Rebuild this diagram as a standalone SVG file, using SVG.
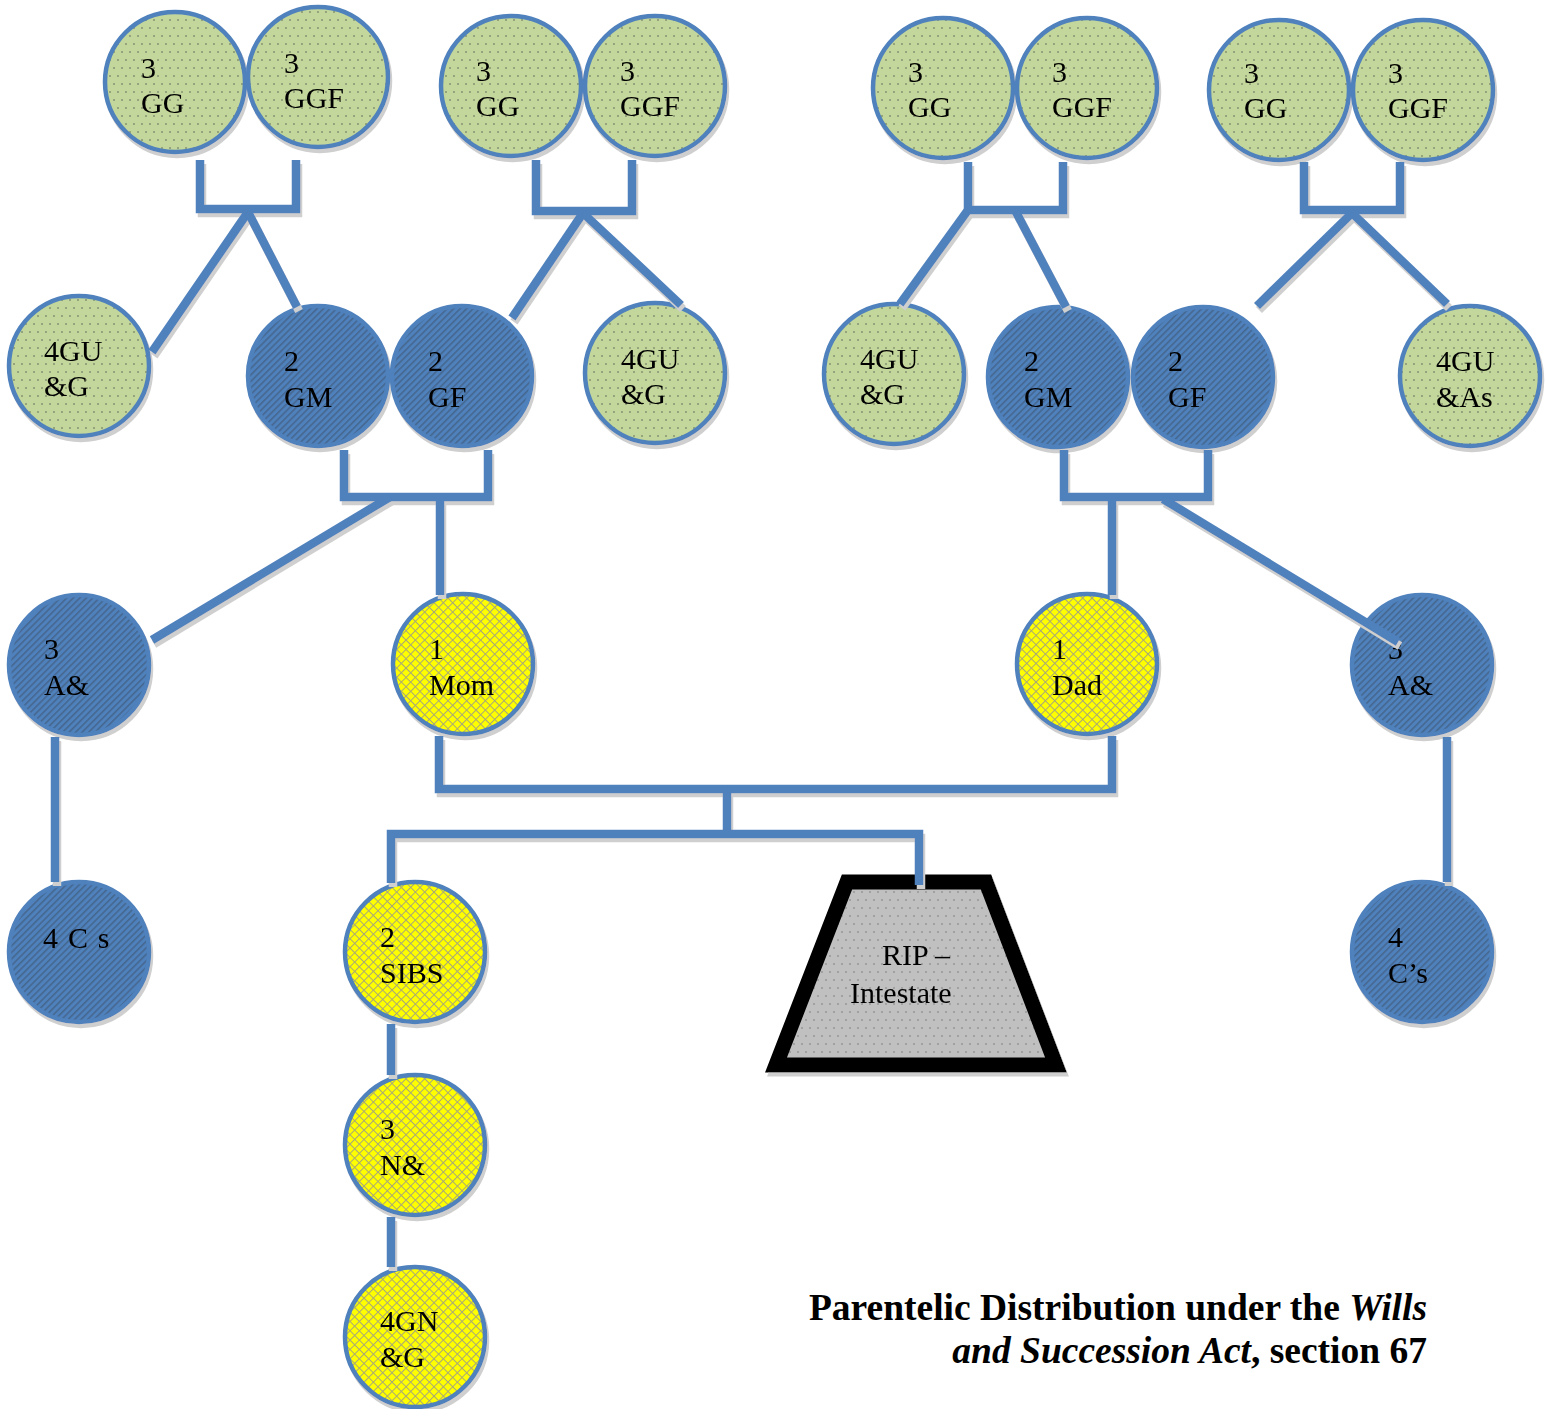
<svg xmlns="http://www.w3.org/2000/svg" xmlns:xlink="http://www.w3.org/1999/xlink" width="1551" height="1409" viewBox="0 0 1551 1409">
<style>
  .lbl { font-family: "Liberation Serif", "Times New Roman", serif; font-size: 30px; fill: #000; }
  .green { fill: url(#dotsGreen); stroke: #4f81bd; stroke-width: 4.5; }
  .blue { fill: url(#hatchBlue); stroke: #4f81bd; stroke-width: 4.5; }
  .yellow { fill: url(#crossYellow); stroke: #4f81bd; stroke-width: 4.5; }
  .conn path { fill: none; stroke: #4f81bd; stroke-width: 8.5; stroke-linejoin: miter; stroke-linecap: butt; }
  .title { font-family: "Liberation Serif", "Times New Roman", serif; font-size: 37.5px; font-weight: bold; fill: #000; }
</style>
<defs>
  <pattern id="dotsGreen" patternUnits="userSpaceOnUse" width="8" height="16">
    <rect width="8" height="16" fill="#c3d69b"/>
    <circle cx="2" cy="4" r="0.8" fill="#5a6450"/>
    <circle cx="6" cy="12" r="0.8" fill="#5a6450"/>
  </pattern>
  <pattern id="dotsGray" patternUnits="userSpaceOnUse" width="8" height="16">
    <rect width="8" height="16" fill="#c0c0c0"/>
    <circle cx="2" cy="4" r="0.8" fill="#7a7a7a"/>
    <circle cx="6" cy="12" r="0.8" fill="#7a7a7a"/>
  </pattern>
  <pattern id="hatchBlue" patternUnits="userSpaceOnUse" width="10" height="4.6" patternTransform="rotate(-45)">
    <rect width="10" height="4.6" fill="#4f81bd"/>
    <rect y="0" width="10" height="1.6" fill="#45678f"/>
  </pattern>
  <pattern id="crossYellow" patternUnits="userSpaceOnUse" width="6.6" height="6.6" patternTransform="rotate(45)">
    <rect width="6.6" height="6.6" fill="#ffff00"/>
    <rect width="6.6" height="1" fill="#a8a878"/>
    <rect width="1" height="6.6" fill="#a8a878"/>
  </pattern>
  <filter id="sh" x="-5%" y="-5%" width="115%" height="115%">
    <feOffset in="SourceAlpha" dx="2" dy="4" result="o"/>
    <feFlood flood-color="#cfcfcf"/>
    <feComposite in2="o" operator="in" result="s"/>
    <feMerge><feMergeNode in="s"/><feMergeNode in="SourceGraphic"/></feMerge>
  </filter>
</defs>
<rect width="1551" height="1409" fill="#ffffff"/>

<!-- Nodes: top row great-grandparents -->
<g id="n-gg1" filter="url(#sh)"><circle class="green" cx="175" cy="82" r="70"/><text class="lbl" x="141" y="78">3</text><text class="lbl" x="141" y="113">GG</text></g>
<g id="n-ggf1" filter="url(#sh)"><circle class="green" cx="318" cy="77" r="70"/><text class="lbl" x="284" y="73">3</text><text class="lbl" x="284" y="108">GGF</text></g>
<g id="n-gg2" filter="url(#sh)"><circle class="green" cx="511" cy="86" r="70"/><text class="lbl" x="476" y="81">3</text><text class="lbl" x="476" y="116">GG</text></g>
<g id="n-ggf2" filter="url(#sh)"><circle class="green" cx="655" cy="86" r="70"/><text class="lbl" x="620" y="81">3</text><text class="lbl" x="620" y="116">GGF</text></g>
<g id="n-gg3" filter="url(#sh)"><circle class="green" cx="943" cy="88" r="70"/><text class="lbl" x="908" y="82">3</text><text class="lbl" x="908" y="117">GG</text></g>
<g id="n-ggf3" filter="url(#sh)"><circle class="green" cx="1087" cy="88" r="70"/><text class="lbl" x="1052" y="82">3</text><text class="lbl" x="1052" y="117">GGF</text></g>
<g id="n-gg4" filter="url(#sh)"><circle class="green" cx="1279" cy="90" r="70"/><text class="lbl" x="1244" y="83">3</text><text class="lbl" x="1244" y="118">GG</text></g>
<g id="n-ggf4" filter="url(#sh)"><circle class="green" cx="1423" cy="90" r="70"/><text class="lbl" x="1388" y="83">3</text><text class="lbl" x="1388" y="118">GGF</text></g>

<!-- Second row -->
<g id="n-4gu1" filter="url(#sh)"><circle class="green" cx="79" cy="366" r="70"/><text class="lbl" x="44" y="361">4GU</text><text class="lbl" x="44" y="396">&amp;G</text></g>
<g id="n-gm1" filter="url(#sh)"><circle class="blue" cx="318" cy="376" r="70"/><text class="lbl" x="284" y="371">2</text><text class="lbl" x="284" y="407">GM</text></g>
<g id="n-gf1" filter="url(#sh)"><circle class="blue" cx="462" cy="376" r="70"/><text class="lbl" x="428" y="371">2</text><text class="lbl" x="428" y="407">GF</text></g>
<g id="n-4gu2" filter="url(#sh)"><circle class="green" cx="655" cy="373" r="70"/><text class="lbl" x="621" y="369">4GU</text><text class="lbl" x="621" y="404">&amp;G</text></g>
<g id="n-4gu3" filter="url(#sh)"><circle class="green" cx="894" cy="374" r="70"/><text class="lbl" x="860" y="369">4GU</text><text class="lbl" x="860" y="404">&amp;G</text></g>
<g id="n-gm2" filter="url(#sh)"><circle class="blue" cx="1058" cy="377" r="70"/><text class="lbl" x="1024" y="371">2</text><text class="lbl" x="1024" y="407">GM</text></g>
<g id="n-gf2" filter="url(#sh)"><circle class="blue" cx="1203" cy="377" r="70"/><text class="lbl" x="1168" y="371">2</text><text class="lbl" x="1168" y="407">GF</text></g>
<g id="n-4gu4" filter="url(#sh)"><circle class="green" cx="1470" cy="376" r="70"/><text class="lbl" x="1436" y="371">4GU</text><text class="lbl" x="1436" y="407">&amp;As</text></g>

<!-- Third row -->
<g id="n-a1" filter="url(#sh)"><circle class="blue" cx="79" cy="665" r="70"/><text class="lbl" x="44" y="659">3</text><text class="lbl" x="44" y="695">A&amp;</text></g>
<g id="n-mom" filter="url(#sh)"><circle class="yellow" cx="463" cy="664" r="70"/><text class="lbl" x="429" y="659">1</text><text class="lbl" x="429" y="695">Mom</text></g>
<g id="n-dad" filter="url(#sh)"><circle class="yellow" cx="1087" cy="664" r="70"/><text class="lbl" x="1052" y="659">1</text><text class="lbl" x="1052" y="695">Dad</text></g>
<g id="n-a2" filter="url(#sh)"><circle class="blue" cx="1422" cy="665" r="70"/><text class="lbl" x="1388" y="659">3</text><text class="lbl" x="1388" y="695">A&amp;</text></g>

<!-- Fourth row and below -->
<g id="n-cs1" filter="url(#sh)"><circle class="blue" cx="79" cy="952" r="70"/><text class="lbl" x="43" y="948" letter-spacing="1.2">4 C s</text></g>
<g id="n-sibs" filter="url(#sh)"><circle class="yellow" cx="415" cy="952" r="70"/><text class="lbl" x="380" y="947">2</text><text class="lbl" x="380" y="983">SIBS</text></g>
<g id="n-cs2" filter="url(#sh)"><circle class="blue" cx="1422" cy="952" r="70"/><text class="lbl" x="1388" y="947">4</text><text class="lbl" x="1388" y="983">C’s</text></g>
<g id="n-nn" filter="url(#sh)"><circle class="yellow" cx="415" cy="1145" r="70"/><text class="lbl" x="380" y="1139">3</text><text class="lbl" x="380" y="1175">N&amp;</text></g>
<g id="n-4gn" filter="url(#sh)"><circle class="yellow" cx="415" cy="1337" r="70"/><text class="lbl" x="380" y="1331">4GN</text><text class="lbl" x="380" y="1367">&amp;G</text></g>

<!-- Deceased -->
<g id="n-rip" filter="url(#sh)">
  <polygon points="847,882 986,882 1056,1065 776,1065" fill="url(#dotsGray)" stroke="#000" stroke-width="15" stroke-linejoin="miter"/>
  <text class="lbl" x="882" y="965">RIP –</text>
  <text class="lbl" x="850" y="1003">Intestate</text>
</g>

<!-- Connectors -->
<g id="connectors" class="conn" filter="url(#sh)">
  <path d="M200,160 V209 H296 V160"/>
  <path d="M248,212 L152,352"/>
  <path d="M248,212 L297,307"/>
  <path d="M536,160 V211 H632 V160"/>
  <path d="M583,213 L512,318"/>
  <path d="M583,213 L681,305"/>
  <path d="M968,162 V210 H1063 V162"/>
  <path d="M968,210 L900,304"/>
  <path d="M1016,212 L1066,307"/>
  <path d="M1304,162 V210 H1400 V162"/>
  <path d="M1352,213 L1257,306"/>
  <path d="M1352,213 L1447,304"/>
  <path d="M344,450 V497 H488 V450"/>
  <path d="M440,497 V595"/>
  <path d="M390,497 L152,640"/>
  <path d="M1064,450 V497 H1208 V450"/>
  <path d="M1112,497 V595"/>
  <path d="M1163,499 L1398,642"/>
  <path d="M439,736 V789 H1112 V736"/>
  <path d="M727,789 V834"/>
  <path d="M391,883 V834 H919 V885"/>
  <path d="M55,737 V882"/>
  <path d="M1447,737 V882"/>
  <path d="M391,1024 V1075"/>
  <path d="M391,1217 V1267"/>
</g>

<!-- Title -->
<text class="title" x="1427" y="1320" text-anchor="end">Parentelic Distribution under the <tspan font-style="italic">Wills</tspan></text>
<text class="title" x="1427" y="1363" text-anchor="end"><tspan font-style="italic">and Succession Act</tspan>, section 67</text>
</svg>
